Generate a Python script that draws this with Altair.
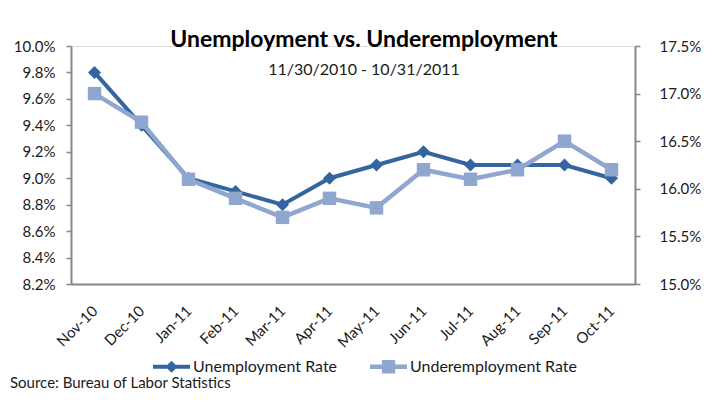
import altair as alt
import pandas as pd

months = ["Nov-10", "Dec-10", "Jan-11", "Feb-11", "Mar-11", "Apr-11",
          "May-11", "Jun-11", "Jul-11", "Aug-11", "Sep-11", "Oct-11"]
unemployment = [9.8, 9.4, 9.0, 8.9, 8.8, 9.0, 9.1, 9.2, 9.1, 9.1, 9.1, 9.0]
underemployment = [17.0, 16.7, 16.1, 15.9, 15.7, 15.9, 15.8, 16.2, 16.1, 16.2, 16.5, 16.2]
series_names = ["Unemployment Rate", "Underemployment Rate"]
left_ticks = [8.2, 8.4, 8.6, 8.8, 9.0, 9.2, 9.4, 9.6, 9.8, 10.0]
right_ticks = [15.0, 15.5, 16.0, 16.5, 17.0, 17.5]
title_text = "Unemployment vs. Underemployment"
subtitle_text = "11/30/2010 - 10/31/2011"
source_text = "Source: Bureau of Labor Statistics"

DARK = "#3465A0"
LIGHT = "#8FA6D0"
AXIS = "#868686"
TXT = "#1a1a1a"
FONT = "Lato"

df = pd.DataFrame({
    "month": months,
    "unemp": [round(v / 100, 4) for v in unemployment],
    "under": [round(v / 100, 4) for v in underemployment],
    "series": [series_names[i % 2] for i in range(len(months))],
})

base = alt.Chart(df)

x = alt.X("month:N", sort=months, scale=alt.Scale(type="point", padding=0.5),
          axis=alt.Axis(title=None, labelAngle=-45, labelAlign="right",
                        labelBaseline="middle", labelPadding=24, ticks=False,
                        domainColor=AXIS, domainWidth=2, labelFontSize=15,
                        labelColor=TXT, labelFont=FONT))

yl = alt.Y("unemp:Q", scale=alt.Scale(domain=[0.082, 0.100], zero=False, nice=False),
           axis=alt.Axis(title=None, orient="left", format=".1%",
                         values=[round(v / 100, 4) for v in left_ticks], grid=False,
                         tickSize=5, tickColor=AXIS, tickWidth=1.5,
                         domainColor=AXIS, domainWidth=2, labelPadding=11,
                         labelFontSize=15, labelColor=TXT, labelFont=FONT))
yr = alt.Y("under:Q", scale=alt.Scale(domain=[0.150, 0.175], zero=False, nice=False),
           axis=alt.Axis(title=None, orient="right", format=".1%",
                         values=[round(v / 100, 4) for v in right_ticks], grid=False,
                         tickSize=5, tickColor=AXIS, tickWidth=1.5,
                         domainColor=AXIS, domainWidth=2, labelPadding=19,
                         labelFontSize=15, labelColor=TXT, labelFont=FONT))

left = alt.layer(
    base.mark_line(color=DARK, strokeWidth=4).encode(x=x, y=yl),
    base.mark_point(shape="diamond", filled=True, size=170, color=DARK, opacity=1).encode(x=x, y=yl),
)
right = alt.layer(
    base.mark_line(color=LIGHT, strokeWidth=4.5).encode(x=x, y=yr),
    base.mark_point(shape="square", filled=True, size=180, color=LIGHT, opacity=1).encode(x=x, y=yr),
)

path_u = "M-1,-0.11H1V0.11H-1Z M0,-0.33L0.33,0L0,0.33L-0.33,0Z"
path_d = "M-1,-0.12H1V0.12H-1Z M-0.36,-0.36H0.36V0.36H-0.36Z"

leg = dict(orient="none", legendX=82, legendY=302, direction="horizontal", title=None,
           symbolSize=1369, symbolStrokeWidth=0, labelFontSize=16, labelFont=FONT,
           labelColor=TXT, labelOffset=3, columnPadding=32, labelLimit=400)

legend_layer = base.transform_filter("false").mark_point(filled=True, opacity=1).encode(
    color=alt.Color("series:N", scale=alt.Scale(domain=series_names, range=[DARK, LIGHT]),
                    legend=alt.Legend(**leg)),
    shape=alt.Shape("series:N", scale=alt.Scale(domain=series_names, range=[path_u, path_d]),
                    legend=alt.Legend(**leg)),
)

source_layer = alt.Chart(pd.DataFrame({"t": [source_text]})).mark_text(
    align="left", baseline="alphabetic", fontSize=15, font=FONT, color=TXT
).encode(x=alt.value(-61), y=alt.value(342), text="t:N")

chart = alt.layer(left, right, legend_layer, source_layer).resolve_scale(
    y="independent"
).properties(
    width=564, height=238,
    autosize=alt.AutoSizeParams(type="none"),
    padding={"left": 63, "top": 38, "right": 66, "bottom": 109},
    title=alt.TitleParams(text=title_text, subtitle=subtitle_text, anchor="middle",
                          dx=11, offset=-39, fontSize=23, font=FONT, fontWeight="bold",
                          color="#000000", subtitleFontSize=16, subtitleFont=FONT,
                          subtitleColor=TXT, subtitlePadding=10),
).configure_view(stroke=None).configure(background="white")

chart.save("out.html", embed_options={"renderer": "svg", "actions": False})
